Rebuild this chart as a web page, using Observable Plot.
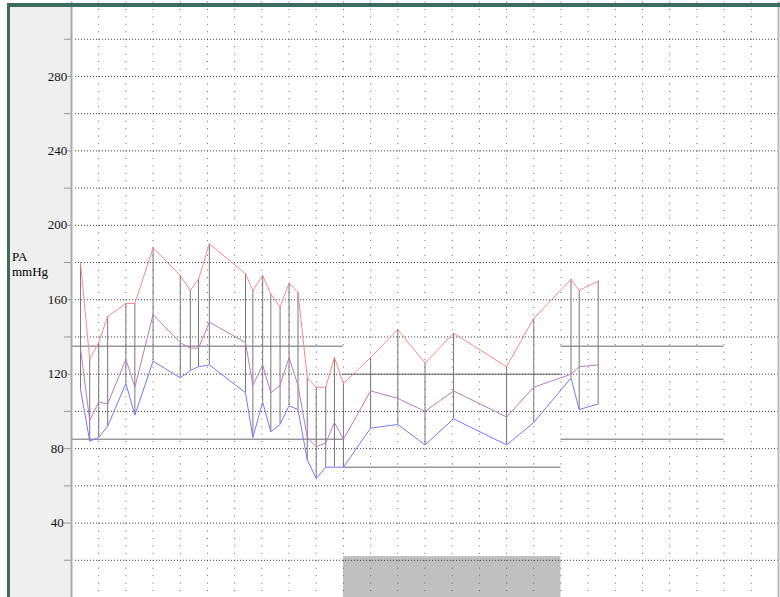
<!DOCTYPE html>
<html><head><meta charset="utf-8">
<script src="https://cdn.jsdelivr.net/npm/d3@7"></script>
<script src="https://cdn.jsdelivr.net/npm/@observablehq/plot@0.6"></script>
<style>
html,body{margin:0;padding:0;background:#fff;}
#frame{position:relative;width:780px;height:597px;overflow:hidden;background:#fff;}
#panel{position:absolute;left:10px;top:6px;width:61px;height:591px;background:#efefef;}
#chart{position:absolute;left:0;top:0;}
#chart svg{background:transparent !important;}
#chart svg text{font-family:"Liberation Serif","Times New Roman",serif !important;font-size:13px !important;fill:#111 !important;}
.bl{position:absolute;background:#3d6b5d;}
#ylab{position:absolute;left:12px;top:249px;font:13px "Liberation Serif",serif;line-height:15px;color:#000;}
</style></head><body>
<div id="frame">
  <div id="panel"></div>
  <div id="chart"></div>
  <div id="ylab">PA<br>mmHg</div>
  <div class="bl" style="left:7px;top:3px;width:3px;height:594px"></div>
  <div class="bl" style="left:7px;top:3px;width:773px;height:3.5px"></div>
</div>
<script>
// time of each reading (hours)
const times = [0.33, 0.67, 1, 1.33, 2, 2.33, 3, 4, 4.37, 4.67, 5.07, 6.4, 6.67, 7.03, 7.33, 7.67, 8, 8.33, 8.67, 9, 9.35, 9.67, 10, 11, 12, 13, 14.05, 16, 17, 18.37, 18.67, 19.37];
const systolic = [180, 128, 137, 151, 158, 158, 188, 173, 165, 171, 190, 174, 165, 173, 163, 156, 169, 164, 118, 113, 113, 129, 115, 129, 144, 126, 142, 124, 150, 171, 165, 170];
const meanPressure = [134, 95, 105, 104, 128, 113, 152, 137, 134, 134, 148, 137, 114, 125, 110, 114, 129, 114, 86, 81, 83, 94, 85, 111, 107, 100, 111, 97, 113, 120, 124, 125];
const diastolic = [112, 84, 86, 92, 115, 98, 127, 118, 122, 124, 125, 110, 86, 105, 89, 93, 103, 101, 74, 64, 70, 70, 70, 91, 93, 82, 96, 82, 94, 118, 101, 104];

// threshold periods
const refStart = [0, 10, 18];
const refEnd = [10, 18, 24];
const refHigh = [135, 120, 135];
const refLow = [85, 70, 85];

// shaded period (sleep)
const shadeInterval = [10, 18];
const shadeHeight = 22;

// axes
const xDomain = [0, 26];
const yDomain = [0, 320];
const gridHours = d3.range(1, 26);
const gridValues = d3.range(20, 320, 20);
const labelTicksShort = [40, 80];
const labelTicksLong = [120, 160, 200, 240, 280];
const minorTicks = [20, 60, 100, 140, 180, 220, 260, 300];

const readings = times.map((t, i) => ({t, sys: systolic[i], mean: meanPressure[i], dia: diastolic[i]}));
const segments = refStart.map((s, i) => ({start: s, end: refEnd[i], high: refHigh[i], low: refLow[i], mid: i === 1}));
const shade = [{x1: shadeInterval[0], x2: shadeInterval[1], y2: shadeHeight}];

const font = {fontFamily: "'Liberation Serif', 'Times New Roman', serif", fontSize: 13};

const chart = Plot.plot({
  width: 780, height: 597,
  marginLeft: 71, marginRight: 2, marginTop: 1.5, marginBottom: 0,
  x: {domain: xDomain, axis: null},
  y: {domain: yDomain, axis: null},
  style: {background: "transparent", fontFamily: "'Liberation Serif', serif", fontSize: "13px", color: "#111", overflow: "visible"},
  marks: [
    Plot.rect(shade, {x1: "x1", x2: "x2", y1: 0, y2: "y2", fill: "#c0c0c0"}),
    Plot.ruleX(gridHours, {y1: yDomain[1], y2: yDomain[0], stroke: "#666", strokeDasharray: "1,6.45"}),
    Plot.ruleY(gridValues, {x1: 0.15, x2: xDomain[1], stroke: "#333", strokeDasharray: "1,2"}),
    Plot.ruleY(segments, {y: "high", x1: "start", x2: "end", stroke: d => d.mid ? "#666" : "#999", strokeWidth: d => d.mid ? 1 : 1.5}),
    Plot.ruleY(segments, {y: "low", x1: "start", x2: "end", stroke: "#999", strokeWidth: 1.5}),
    Plot.ruleX(readings, {x: "t", y1: "dia", y2: "sys", stroke: "#777", strokeWidth: 1}),
    Plot.line(readings, {x: "t", y: "sys", stroke: "#ff8a8a", strokeWidth: 1}),
    Plot.line(readings, {x: "t", y: "mean", stroke: "#b97cc4", strokeWidth: 1}),
    Plot.line(readings, {x: "t", y: "dia", stroke: "#7878ff", strokeWidth: 1}),
    Plot.ruleX([xDomain[0]], {stroke: "#aaa", strokeWidth: 2}),
    Plot.ruleX([xDomain[1]], {stroke: "#bbb", strokeWidth: 2}),
    Plot.axisY({ticks: minorTicks, anchor: "left", tickSize: 7, tickFormat: () => "", stroke: "#999"}),
    Plot.axisY({ticks: labelTicksShort, anchor: "left", tickSize: 7, tickPadding: 0.7, stroke: "#999", fill: "#111", ...font}),
    Plot.axisY({ticks: labelTicksLong, anchor: "left", tickSize: 3.5, tickPadding: 0.8, stroke: "#999", fill: "#111", ...font})
  ]
});
document.getElementById("chart").appendChild(chart);
</script>
</body></html>
